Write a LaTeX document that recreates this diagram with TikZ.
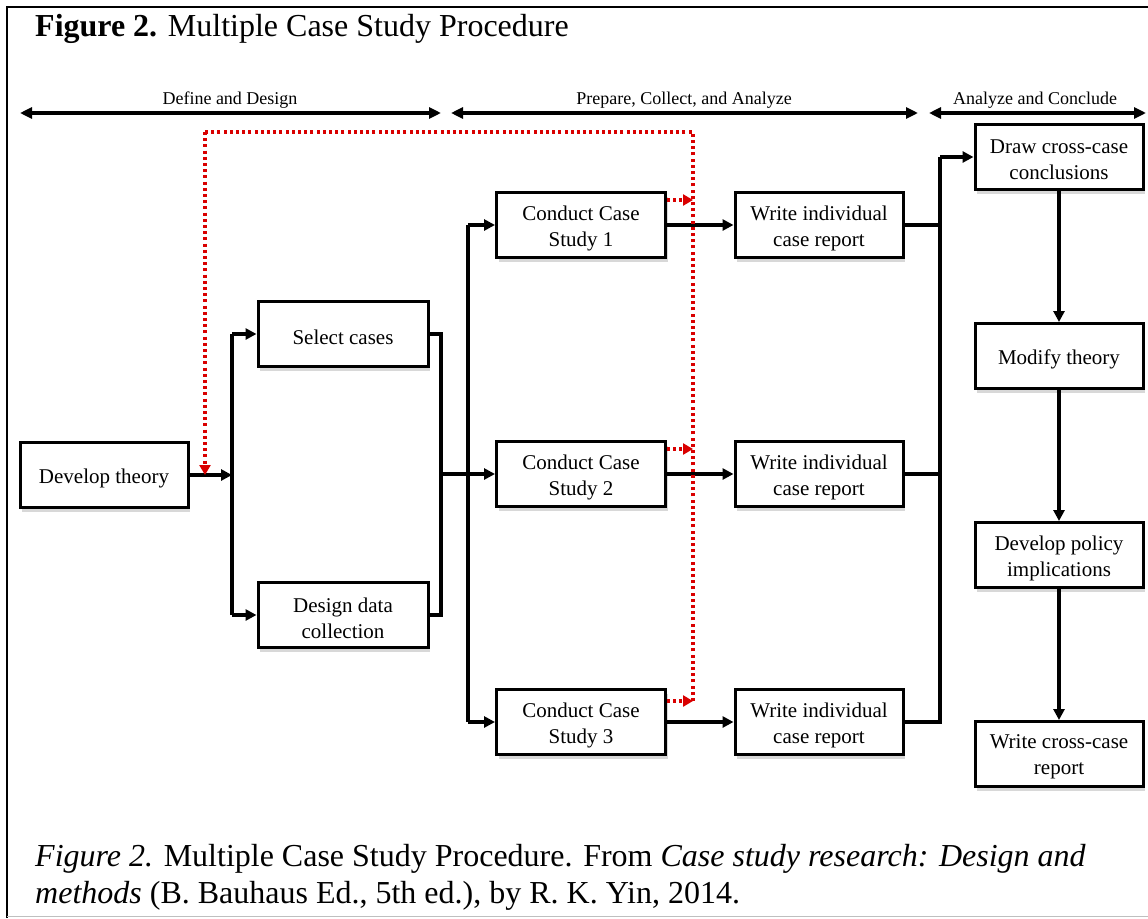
\documentclass[tikz,border=0pt]{standalone}
\usepackage{fontspec}
\setmainfont{Liberation Serif}
\usetikzlibrary{arrows.meta,shadows}

\begin{document}
\begin{tikzpicture}[x=1pt,y=-1pt,
  box/.style={draw=black, line width=3pt, fill=white,
    minimum width=168pt, minimum height=65pt, inner sep=0pt,
    drop shadow={shadow xshift=2pt, shadow yshift=-4pt, opacity=0.3}},
  boxtext/.style={align=center, font=\fontsize{21}{26}\selectfont,
    inner sep=0pt, yshift=-3pt},
  tbox/.style={box, label={[boxtext]center:{#1}}},
  conn/.style={line width=3.2pt, draw=black},
  arr/.style={conn, -{Triangle[length=11pt,width=11pt]}},
  phase/.style={line width=3.2pt, {Triangle[length=12pt,width=11pt]}-{Triangle[length=12pt,width=11pt]}},
  phaselabel/.style={font=\fontsize{18}{20}\selectfont, anchor=base},
  loop/.style={draw=red!85!black, line width=3.2pt, dash pattern=on 3pt off 3.2pt},
  looparr/.style={loop, -{Triangle[length=10pt,width=11pt]}}
]
% canvas and frame
\useasboundingbox (0,0) rectangle (1148,918);
\fill[white] (0,0) rectangle (1148,918);
\draw[line width=2pt] (7,918) -- (7,7) -- (1148,7);
\draw[line width=1pt, black!25] (7,916) -- (1148,916);

% title
\node[anchor=base west, font=\fontsize{32}{36}\selectfont, inner sep=0pt] (title) at (35,36)
  {\textbf{Figure 2.} Multiple Case Study Procedure};

% phase arrows
\coordinate (p1a) at (20,113);  \coordinate (p1b) at (441,113);
\coordinate (p2a) at (451,113); \coordinate (p2b) at (918,113);
\coordinate (p3a) at (929,113); \coordinate (p3b) at (1146,113);
\draw[phase] (p1a) -- (p1b);
\draw[phase] (p2a) -- (p2b);
\draw[phase] (p3a) -- (p3b);
\node[phaselabel] (l1) at (230,104) {Define and Design};
\node[phaselabel] (l2) at (684,104) {Prepare, Collect, and Analyze};
\node[phaselabel] (l3) at (1035,104) {Analyze and Conclude};

% boxes
\node[tbox={Develop theory}] (dev) at (104,475) {};
\node[tbox={Select cases}, minimum width=170pt] (sel) at (343,334) {};
\node[tbox={Design data\\collection}, minimum width=170pt] (des) at (343,615) {};
\node[tbox={Conduct Case\\Study 1}, minimum width=169pt] (c1) at (581,225) {};
\node[tbox={Conduct Case\\Study 2}, minimum width=169pt] (c2) at (581,474) {};
\node[tbox={Conduct Case\\Study 3}, minimum width=169pt] (c3) at (581,722) {};
\node[tbox={Write individual\\case report}] (w1) at (819,225) {};
\node[tbox={Write individual\\case report}] (w2) at (819,474) {};
\node[tbox={Write individual\\case report}] (w3) at (819,722) {};
\node[tbox={Draw cross-case\\conclusions}] (dr) at (1059,157) {};
\node[tbox={Modify theory}] (mod) at (1059,356) {};
\node[tbox={Develop policy\\implications}] (pol) at (1059,555) {};
\node[tbox={Write cross-case\\report}] (rep) at (1059,754) {};

% junction columns
\coordinate (ja) at (232,0);
\coordinate (jb) at (441,0);
\coordinate (jc) at (468,0);
\coordinate (jd) at (940,0);

% define and design
\draw[arr] (dev.east) -- (ja |- dev.east);
\draw[conn] (ja |- sel.west) -- (ja |- des.west);
\draw[arr] (ja |- sel.west) -- (sel.west);
\draw[arr] (ja |- des.west) -- (des.west);

% into the case studies
\draw[conn] (sel.east) -- (jb |- sel.east) -- (jb |- des.east) -- (des.east);
\draw[arr] (jb |- c2.west) -- (c2.west);
\draw[conn] (jc |- c1.west) -- (jc |- c3.west);
\draw[arr] (jc |- c1.west) -- (c1.west);
\draw[arr] (jc |- c3.west) -- (c3.west);

% case studies to reports
\draw[arr] (c1.east) -- (w1.west);
\draw[arr] (c2.east) -- (w2.west);
\draw[arr] (c3.east) -- (w3.west);

% reports to cross-case conclusions
\draw[conn] (w1.east) -- (jd |- w1.east);
\draw[conn] (w2.east) -- (jd |- w2.east);
\draw[conn] (w3.east) -- (jd |- w3.east) -- (jd |- dr.west);
\draw[arr] (jd |- dr.west) -- (dr.west);

% conclude chain
\draw[arr] (dr.south) -- (mod.north);
\draw[arr] (mod.south) -- (pol.north);
\draw[arr] (pol.south) -- (rep.north);

% feedback loop
\coordinate (rx) at (693,0);
\coordinate (r1) at ([yshift=-9pt]c1.north east);
\coordinate (r2) at ([yshift=-9pt]c2.north east);
\coordinate (r3) at ([yshift=-13pt]c3.north east);
\coordinate (rtop) at (693,132);
\coordinate (rleft) at (205,132);
\draw[loop] (rx |- r3) -- (rtop) -- (rleft);
\draw[looparr] (rleft) -- (rleft |- dev.east);
\draw[looparr] (r1) -- (rx |- r1);
\draw[looparr] (r2) -- (rx |- r2);
\draw[looparr] (r3) -- (rx |- r3);

% caption (anchored on the baseline of its last line)
\node[anchor=base west, inner sep=0pt, align=left, font=\fontsize{32}{37}\selectfont] (cap) at (35,903)
  {\textit{Figure 2.} Multiple Case Study Procedure. From \textit{Case study research: Design and}\\
   \textit{methods} (B. Bauhaus Ed., 5th ed.), by R. K. Yin, 2014.};
\end{tikzpicture}
\end{document}
